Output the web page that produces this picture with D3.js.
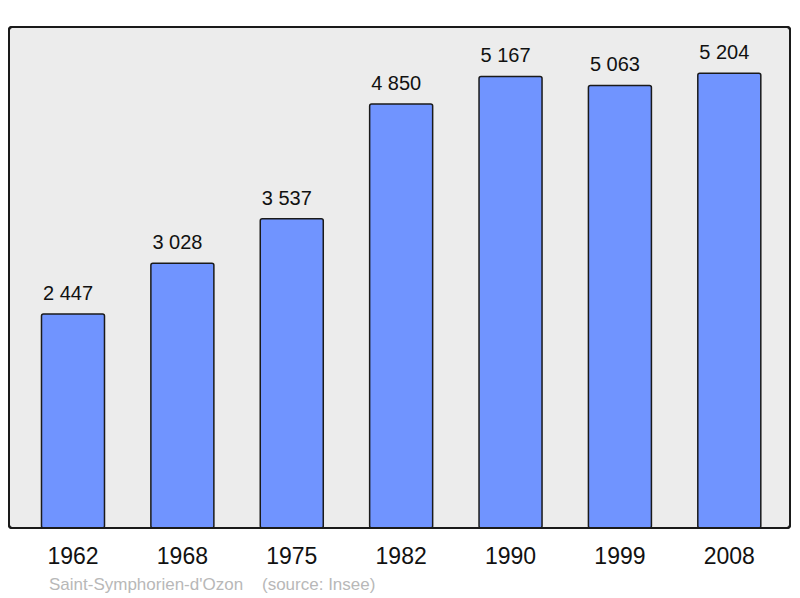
<!DOCTYPE html>
<html><head><meta charset="utf-8">
<script src="https://cdn.jsdelivr.net/npm/d3@7"></script>
<style>body{margin:0;background:#fff}svg{display:block}</style>
</head><body>
<script>
const years = ["1962","1968","1975","1982","1990","1999","2008"];
const population = [2447,3028,3537,4850,5167,5063,5204];
const valueLabels = ["2 447","3 028","3 537","4 850","5 167","5 063","5 204"];
const footer = "Saint-Symphorien-d'Ozon    (source: Insee)";

const W=800,H=598;
const svg=d3.select("body").append("svg").attr("width",W).attr("height",H);
const frame={x:9,y:27,w:781,h:501};
svg.append("rect").attr("x",frame.x).attr("y",frame.y).attr("width",frame.w).attr("height",frame.h)
  .attr("rx",3).attr("fill","#ececec").attr("stroke","#1a1a1a").attr("stroke-width",2);

const x=d3.scaleBand().domain(years).range([18.3,784]).paddingInner(0.424).paddingOuter(0.212);
const y=d3.scaleLinear().domain([0,5732]).range([528,27]);

const g=svg.append("g");
g.selectAll("rect.bar").data(years).join("rect").attr("class","bar")
  .attr("x",d=>x(d)).attr("width",x.bandwidth())
  .attr("y",(d,i)=>y(population[i])).attr("height",(d,i)=>y(0)-y(population[i]))
  .attr("rx",2).attr("fill","#7094ff").attr("stroke","#1a1a1a").attr("stroke-width",1.5);

g.selectAll("text.val").data(years).join("text").attr("class","val")
  .attr("x",d=>x(d)+1.5).attr("y",(d,i)=>y(population[i])-14)
  .attr("text-anchor","start").attr("font-family","Liberation Sans, Arial, sans-serif")
  .attr("font-size",20).attr("fill","#111").text((d,i)=>valueLabels[i]);

svg.append("rect").attr("x",frame.x).attr("y",frame.y).attr("width",frame.w).attr("height",frame.h)
  .attr("rx",3).attr("fill","none").attr("stroke","#1a1a1a").attr("stroke-width",2);

const axis=d3.axisBottom(x).tickSize(0).tickPadding(0);
const ax=svg.append("g").attr("transform","translate(0,528)").call(axis);
ax.select(".domain").remove();
ax.selectAll("text").attr("font-family","Liberation Sans, Arial, sans-serif").attr("font-size",23)
  .attr("fill","#111").attr("dy",null).attr("y",36);

svg.append("text").attr("x",49).attr("y",590).attr("font-family","Liberation Sans, Arial, sans-serif")
  .attr("font-size",17).attr("fill","#b8b8b8").attr("xml:space","preserve").style("white-space","pre").text(footer);
</script>
</body></html>
